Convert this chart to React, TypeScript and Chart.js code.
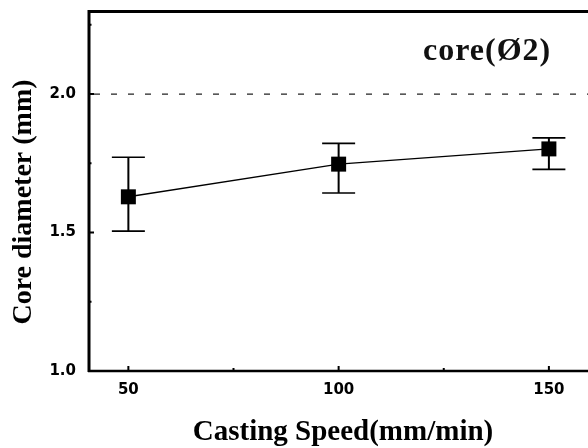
import React, { useEffect, useRef } from "react";
import { Chart, registerables } from "chart.js";

Chart.register(...registerables);

const speeds = [50, 100, 150];
const coreDiameter = [1.629, 1.747, 1.802];
const errUpper = [1.772, 1.822, 1.842];
const errLower = [1.505, 1.643, 1.728];
const xTicks = [50, 100, 150];
const xMinorTicks = [75, 125];
const yTicks = [1.0, 1.5, 2.0];
const yMinorTicks = [1.25, 1.75, 2.25];
const referenceLine = 2.0;
const annotationText = "core(Ø2)";
const xTitle = "Casting Speed(mm/min)";
const yTitle = "Core diameter (mm)";

const decorPlugin = {
  id: "decor",
  beforeDatasetsDraw(chart: any) {
    const { ctx, chartArea, scales } = chart;
    const y = scales.y.getPixelForValue(referenceLine);
    ctx.save();
    ctx.strokeStyle = "#222";
    ctx.lineWidth = 1.2;
    ctx.setLineDash([6, 11]);
    ctx.beginPath();
    ctx.moveTo(chartArea.left + 6, y);
    ctx.lineTo(chartArea.right, y);
    ctx.stroke();
    ctx.restore();
  },
  afterDatasetsDraw(chart: any) {
    const { ctx, scales } = chart;
    ctx.save();
    ctx.strokeStyle = "#000";
    speeds.forEach((s, i) => {
      const x = scales.x.getPixelForValue(s);
      const yt = scales.y.getPixelForValue(errUpper[i]);
      const yb = scales.y.getPixelForValue(errLower[i]);
      ctx.lineWidth = 2;
      ctx.beginPath();
      ctx.moveTo(x, yt);
      ctx.lineTo(x, yb);
      ctx.stroke();
      ctx.lineWidth = 1.6;
      ctx.beginPath();
      ctx.moveTo(x - 16.5, yt);
      ctx.lineTo(x + 16.5, yt);
      ctx.moveTo(x - 16.5, yb);
      ctx.lineTo(x + 16.5, yb);
      ctx.stroke();
    });
    ctx.restore();
  },
  afterDraw(chart: any) {
    const { ctx, chartArea, scales } = chart;
    const { left, right, top, bottom } = chartArea;
    ctx.save();
    ctx.strokeStyle = "#000";
    ctx.lineCap = "butt";
    // frame
    ctx.lineWidth = 3;
    ctx.beginPath();
    ctx.moveTo(left + 1, top - 1);
    ctx.lineTo(left + 1, bottom + 1);
    ctx.moveTo(left, top + 0.5);
    ctx.lineTo(right, top + 0.5);
    ctx.stroke();
    ctx.lineWidth = 2.6;
    ctx.beginPath();
    ctx.moveTo(left, bottom);
    ctx.lineTo(right, bottom);
    ctx.stroke();
    // inward ticks
    ctx.lineWidth = 2;
    ctx.beginPath();
    yTicks.forEach((v) => {
      const y = scales.y.getPixelForValue(v);
      ctx.moveTo(left, y);
      ctx.lineTo(left + 6, y);
    });
    yMinorTicks.forEach((v) => {
      const y = scales.y.getPixelForValue(v);
      ctx.moveTo(left, y);
      ctx.lineTo(left + 3.5, y);
    });
    xTicks.forEach((v) => {
      const x = scales.x.getPixelForValue(v);
      ctx.moveTo(x, bottom);
      ctx.lineTo(x, bottom - 5);
    });
    xMinorTicks.forEach((v) => {
      const x = scales.x.getPixelForValue(v);
      ctx.moveTo(x, bottom);
      ctx.lineTo(x, bottom - 3);
    });
    ctx.stroke();
    // annotation
    ctx.fillStyle = "#111";
    ctx.font = 'bold 32px "Liberation Serif"';
    (ctx as any).letterSpacing = "1px";
    ctx.textAlign = "left";
    ctx.textBaseline = "alphabetic";
    ctx.fillText(annotationText, 423, 60);
    (ctx as any).letterSpacing = "0px";
    // axis titles
    ctx.fillStyle = "#000";
    ctx.font = 'bold 29px "Liberation Serif"';
    ctx.textAlign = "center";
    ctx.fillText(xTitle, 343, 440);
    ctx.font = 'bold 28px "Liberation Serif"';
    ctx.translate(31, 202);
    ctx.rotate(-Math.PI / 2);
    ctx.fillText(yTitle, 0, 0);
    ctx.restore();
  },
};

function zeroPadding(scale: any) {
  scale.paddingTop = 0;
  scale.paddingBottom = 0;
  scale.paddingLeft = 0;
  scale.paddingRight = 0;
}

export default function App() {
  const ref = useRef<HTMLCanvasElement | null>(null);
  useEffect(() => {
    if (!ref.current) return;
    const chart = new Chart(ref.current, {
      type: "scatter",
      data: {
        datasets: [
          {
            data: speeds.map((s, i) => ({ x: s, y: coreDiameter[i] })),
            showLine: true,
            borderColor: "#000",
            borderWidth: 1.4,
            backgroundColor: "#000",
            pointStyle: "rect",
            pointRadius: 10.6,
            pointBorderWidth: 0,
            pointBackgroundColor: "#000",
          },
        ],
      },
      options: {
        responsive: false,
        animation: false,
        events: [],
        layout: { autoPadding: false, padding: { top: 11, right: 0, left: 0, bottom: 0 } },
        plugins: { legend: { display: false }, tooltip: { enabled: false } },
        scales: {
          x: {
            type: "linear",
            min: 40.4,
            max: 159.3,
            grid: { display: false, drawTicks: false },
            border: { display: false },
            afterBuildTicks: (scale: any) => {
              scale.ticks = xTicks.map((v) => ({ value: v }));
            },
            afterFit: (scale: any) => {
              scale.height = 77;
              zeroPadding(scale);
            },
            ticks: {
              padding: 10,
              color: "#000",
              font: { family: "DejaVu Sans", weight: "bold", size: 15 },
              callback: (v: any) => String(v),
            },
          },
          y: {
            type: "linear",
            min: 1.0,
            max: 2.3,
            grid: { display: false, drawTicks: false },
            border: { display: false },
            afterBuildTicks: (scale: any) => {
              scale.ticks = yTicks.map((v) => ({ value: v }));
            },
            afterFit: (scale: any) => {
              scale.width = 88;
              zeroPadding(scale);
            },
            ticks: {
              padding: 12,
              color: "#000",
              font: { family: "DejaVu Sans", weight: "bold", size: 15 },
              callback: (v: any) => Number(v).toFixed(1),
            },
          },
        },
      },
      plugins: [decorPlugin],
    });
    return () => chart.destroy();
  }, []);
  return (
    <div style={{ position: "fixed", left: 0, top: 0, width: 588, height: 448, background: "#fff" }}>
      <canvas ref={ref} width={588} height={448} style={{ display: "block" }} />
    </div>
  );
}
